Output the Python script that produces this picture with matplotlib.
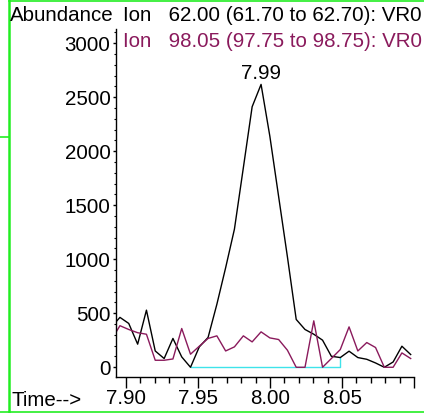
import matplotlib
matplotlib.use("Agg")
import matplotlib.pyplot as plt
from matplotlib.lines import Line2D
from matplotlib.ticker import MultipleLocator, FixedLocator

plt.rcParams['font.family'] = ['Liberation Sans', 'DejaVu Sans']

# retention time of each scan (min)
times = [7.8897, 7.8958, 7.9019, 7.9081, 7.9142, 7.9203, 7.9265, 7.9326, 7.9387,
         7.9448, 7.9509, 7.9570, 7.9631, 7.9692, 7.9753, 7.9815, 7.9876, 7.9938,
         7.9999, 8.0060, 8.0121, 8.0182, 8.0243, 8.0304, 8.0365, 8.0426, 8.0488,
         8.0549, 8.0610, 8.0672, 8.0733, 8.0794, 8.0855, 8.0916, 8.0977]

# ion 62.00 abundance
ion62 = [370, 462, 406, 214, 529, 151, 81, 267, 96,
         0, 189, 276, 583, 922, 1279, 1848, 2412, 2619,
         2139, 1580, 1022, 443, 350, 306, 251, 102, 90,
         149, 90, 74, 40, 0, 49, 195, 118]

# ion 98.05 abundance
ion98 = [250, 385, 350, 320, 306, 65, 65, 77, 359,
         121, 195, 267, 291, 151, 189, 291, 235, 328,
         272, 257, 158, 0, 0, 430, 0, 81, 164,
         374, 151, 229, 183, 0, 0, 133, 81]

# integration baseline
base_t = [7.9448, 8.0488, 8.0488]
base_y = [0, 0, 90]

peak_t = 7.9938
peak_y = 2619
peak_label = "7.99"

xticks = [7.90, 7.95, 8.00, 8.05, 8.10]
xlabels = ["7.90", "7.95", "8.00", "8.05", ""]
yticks = [0, 500, 1000, 1500, 2000, 2500, 3000]

fs = 14.8
maroon = '#8a1a5c'
fig = plt.figure(figsize=(4.24, 4.13), dpi=100)
ax = fig.add_axes([116 / 424, 36 / 413, 298 / 424, 348 / 413])

ax.plot(base_t, base_y, color='#3fe3ea', lw=1.0)
ax.plot(times, ion62, color='black', lw=1.0)
ax.plot(times, ion98, color=maroon, lw=1.0)

ax.annotate(peak_label, (peak_t, peak_y), xytext=(0, 1), textcoords='offset points',
            ha='center', va='bottom', fontsize=fs)

ax.set_xlim(7.89306, 8.10)
ax.set_ylim(-90, 3132)
ax.spines['top'].set_visible(False)
ax.spines['right'].set_visible(False)
ax.spines['left'].set_linewidth(1.0)
ax.spines['bottom'].set_linewidth(1.0)

ax.xaxis.set_major_locator(FixedLocator(xticks))
ax.set_xticklabels(xlabels)
ax.xaxis.set_minor_locator(MultipleLocator(0.01))
ax.set_yticks(yticks)
ax.yaxis.set_minor_locator(MultipleLocator(100))
ax.tick_params(axis='x', which='major', length=8, width=1, pad=0.5, labelsize=fs)
ax.tick_params(axis='x', which='minor', length=4.5, width=1)
ax.tick_params(axis='y', which='major', length=2.5, width=1, pad=1.5, labelsize=fs)
ax.tick_params(axis='y', which='minor', length=1.2, width=0.8)

fig.text(10 / 424, 392.3 / 413, "Abundance", fontsize=fs, va='baseline')
fig.text(123 / 424, 392.3 / 413, "Ion   62.00 (61.70 to 62.70): VR0", fontsize=fs,
         va='baseline', color='black')
fig.text(123 / 424, 365.7 / 413, "Ion   98.05 (97.75 to 98.75): VR0", fontsize=fs,
         va='baseline', color=maroon)
fig.text(12 / 424, 7 / 413, "Time-->", fontsize=fs, va='baseline')

# green frame
green = '#22ee22'
fig.add_artist(Line2D([9 / 424, 9 / 424], [0, 1], color=green, lw=1.8))
fig.add_artist(Line2D([9 / 424, 1], [412.3 / 413, 412.3 / 413], color=green, lw=1.2))
fig.add_artist(Line2D([0, 1], [1.5 / 413, 1.5 / 413], color=green, lw=1.2))
fig.add_artist(Line2D([0, 9 / 424], [276 / 413, 276 / 413], color=green, lw=1.2))

fig.savefig("out.png", dpi=100)
